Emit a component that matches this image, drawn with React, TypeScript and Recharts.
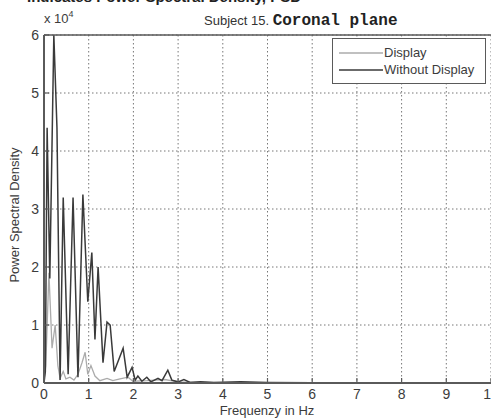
import { LineChart, Line, XAxis, YAxis, CartesianGrid } from "recharts";

// Display (light grey) series, frequency in Hz / PSD
const displayFreq = [
  0, 0.04, 0.11, 0.18, 0.25, 0.31, 0.36, 0.43, 0.49, 0.58, 0.67, 0.76, 0.85,
  0.92, 0.98, 1.05, 1.14, 1.25, 1.41, 1.54, 1.7, 1.88, 1.99, 2.3, 2.7, 3.0,
  3.5, 4.0, 5.0, 6.0, 7.0, 8.0, 9.0, 10.0,
];
const displayPsd = [
  500, 3000, 19000, 6000, 10000, 3000, 800, 2000, 700, 1000, 500, 1500, 3500,
  5300, 1500, 3000, 1200, 400, 800, 400, 700, 1000, 300, 400, 600, 200, 100,
  50, 30, 20, 20, 10, 10, 10,
];

// Without Display (dark) series
const withoutFreq = [
  0, 0.03, 0.07, 0.13, 0.22, 0.29, 0.36, 0.43, 0.54, 0.65, 0.76, 0.87, 0.98,
  1.07, 1.14, 1.21, 1.32, 1.41, 1.48, 1.57, 1.77, 1.86, 1.97, 2.04, 2.1, 2.19,
  2.3, 2.39, 2.55, 2.64, 2.77, 2.86, 3.0, 3.13, 3.27, 3.5, 3.8, 4.0, 4.4, 5.0,
  6.0, 7.0, 8.0, 9.0, 10.0,
];
const withoutPsd = [
  0, 2000, 44000, 18000, 60000, 44000, 500, 32000, 1500, 32000, 1000, 32500,
  14000, 22500, 7500, 20000, 3500, 10500, 10000, 2000, 6000, 1000, 2700, 500,
  1200, 300, 1000, 200, 800, 400, 2200, 500, 200, 600, 100, 200, 100, 150, 200,
  100, 50, 40, 30, 20, 20,
];

const xTicks = [0, 1, 2, 3, 4, 5, 6, 7, 8, 9, 10];
const yTicks = [0, 10000, 20000, 30000, 40000, 50000, 60000];

const seriesNames = ["Display", "Without Display"];

const displayData = displayFreq.map((f, i) => ({ f, v: displayPsd[i] }));
const withoutData = withoutFreq.map((f, i) => ({ f, v: withoutPsd[i] }));

const TOP = 35;
const BOTTOM = 383;
const LEFT = 44;
const AXIS = "#5a5a5a";
const TXT = "#3c3c3c";

function BottomTick(props: any) {
  const { x, payload } = props;
  return (
    <g>
      <line x1={x} x2={x} y1={BOTTOM} y2={BOTTOM - 5} stroke={AXIS} strokeWidth={1.2} />
      <text x={x} y={BOTTOM + 16} textAnchor="middle" fontSize={14} fill={TXT}>
        {payload.value}
      </text>
    </g>
  );
}

function TopTick(props: any) {
  const { x } = props;
  return <line x1={x} x2={x} y1={TOP} y2={TOP + 5} stroke={AXIS} strokeWidth={1.2} />;
}

function LeftTick(props: any) {
  const { y, payload } = props;
  return (
    <g>
      <line x1={LEFT} x2={LEFT + 5} y1={y} y2={y} stroke={AXIS} strokeWidth={1.2} />
      <text x={LEFT - 5} y={y + 5} textAnchor="end" fontSize={14} fill={TXT}>
        {payload.value / 10000}
      </text>
    </g>
  );
}

export default function App() {
  return (
    <div
      style={{
        position: "absolute",
        left: 0,
        top: 0,
        width: 491,
        height: 418,
        overflow: "hidden",
        background: "#fff",
        fontFamily: '"Liberation Sans", Arial, sans-serif',
        color: TXT,
      }}
    >
      <div
        style={{
          position: "absolute",
          right: 190,
          top: -12,
          fontSize: 15,
          fontWeight: "bold",
          whiteSpace: "nowrap",
          color: "#222",
        }}
      >
        Indicates Power Spectral Density, PSD
      </div>

      <LineChart
        width={501}
        height={418}
        margin={{ top: 5, right: 10, bottom: 5, left: 4 }}
      >
        <CartesianGrid
          stroke="#777"
          strokeDasharray="1.5 2.5"
          verticalValues={xTicks}
          horizontalValues={yTicks}
        />
        <XAxis
          xAxisId="top"
          orientation="top"
          type="number"
          dataKey="f"
          domain={[0, 10]}
          ticks={xTicks}
          height={30}
          axisLine={{ stroke: AXIS, strokeWidth: 1.5 }}
          tickLine={false}
          tick={<TopTick />}
        />
        <XAxis
          type="number"
          dataKey="f"
          domain={[0, 10]}
          ticks={xTicks}
          height={30}
          allowDataOverflow
          axisLine={{ stroke: AXIS, strokeWidth: 2 }}
          tickLine={false}
          tick={<BottomTick />}
        />
        <YAxis
          type="number"
          domain={[0, 60000]}
          ticks={yTicks}
          width={40}
          allowDataOverflow
          axisLine={{ stroke: AXIS, strokeWidth: 2 }}
          tickLine={false}
          tick={<LeftTick />}
        />
        <Line
          data={displayData}
          dataKey="v"
          name={seriesNames[0]}
          type="linear"
          stroke="#ababab"
          strokeWidth={1.3}
          dot={false}
          isAnimationActive={false}
        />
        <Line
          data={withoutData}
          dataKey="v"
          name={seriesNames[1]}
          type="linear"
          stroke="#3a3a3a"
          strokeWidth={1.5}
          dot={false}
          isAnimationActive={false}
        />
      </LineChart>

      {/* exponent */}
      <div style={{ position: "absolute", left: 44, top: 11, fontSize: 13, whiteSpace: "nowrap" }}>
        x 10<sup style={{ fontSize: 9, verticalAlign: "top", position: "relative", top: -2 }}>4</sup>
      </div>

      {/* title */}
      <div style={{ position: "absolute", left: 204, top: 11, whiteSpace: "nowrap", color: "#333" }}>
        <span style={{ fontSize: 13 }}>Subject 15. </span>
        <span style={{ fontFamily: '"Liberation Mono", "Courier New", monospace', fontSize: 16, fontWeight: "bold", color: "#222" }}>
          Coronal plane
        </span>
      </div>

      {/* y label */}
      <div
        style={{
          position: "absolute",
          left: 14,
          top: 215,
          fontSize: 13,
          whiteSpace: "nowrap",
          transform: "translate(-50%, -50%) rotate(-90deg)",
        }}
      >
        Power Spectral Density
      </div>

      {/* x label */}
      <div
        style={{
          position: "absolute",
          left: 267,
          top: 403,
          fontSize: 13,
          lineHeight: "15px",
          whiteSpace: "nowrap",
          transform: "translateX(-50%)",
        }}
      >
        Frequenzy in Hz
      </div>

      {/* legend */}
      <div
        style={{
          position: "absolute",
          left: 332,
          top: 38,
          width: 154,
          height: 46,
          border: `1.5px solid ${AXIS}`,
          background: "#fff",
          boxSizing: "border-box",
          fontSize: 13,
        }}
      >
        {seriesNames.map((name, i) => (
          <div key={name} style={{ position: "absolute", left: 6, top: 6 + i * 17, display: "flex", alignItems: "center", whiteSpace: "nowrap" }}>
            <svg width={44} height={10}>
              <line x1={0} x2={44} y1={5} y2={5} stroke={i === 0 ? "#ababab" : "#3a3a3a"} strokeWidth={1.5} />
            </svg>
            <span style={{ marginLeft: 1 }}>{name}</span>
          </div>
        ))}
      </div>
    </div>
  );
}
